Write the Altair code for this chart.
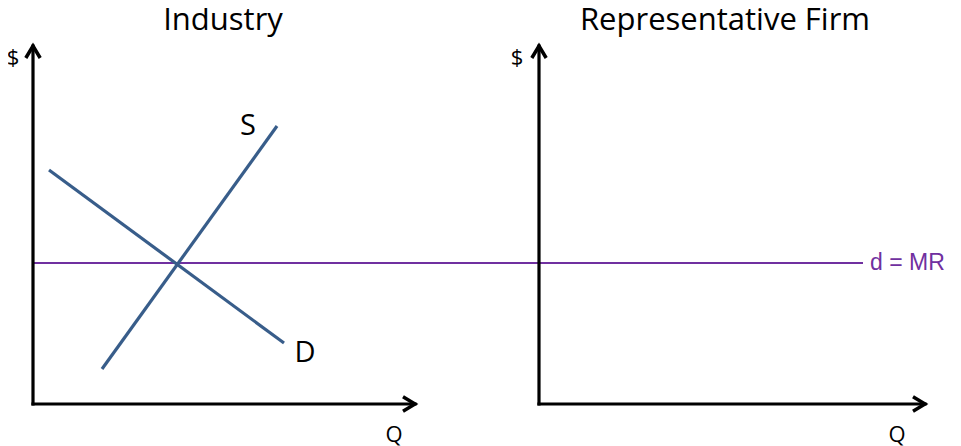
import altair as alt
import pandas as pd

# Coordinate system: origin at the Industry panel's axis corner, units ~ pixels
# Supply and demand (Industry panel)
supply_q = [69, 244]
supply_p = [35, 278]
demand_q = [16, 251]
demand_p = [234, 61]

# Market price line d = MR, spanning both panels
mr_price = 141
mr_q = [0, 830]

# Axes: (x, x2, y, y2)
axis_x = [0, 506, 0, 506]
axis_x2 = [0, 506, 382, 892]
axis_y = [0, 0, 0, 0]
axis_y2 = [358, 358, 0, 0]

up_tips_x = [0, 506]
up_tips_y = [358, 358]
right_tips_x = [382, 892]
right_tips_y = [0, 0]

titles = ["Industry", "Representative Firm"]
titles_x = [190, 692]
titles_y = [383, 383]

axis_labels = ["$", "$", "Q", "Q"]
axis_labels_x = [-20, 484, 361, 864]
axis_labels_y = [346, 346, -31, -31]

curve_labels = ["S", "D"]
curve_labels_x = [215, 272]
curve_labels_y = [278, 51]

XS = alt.Scale(domain=[-25, 920], nice=False, zero=False)
YS = alt.Scale(domain=[-42, 396], nice=False, zero=False)

def X(f="x"):
    return alt.X(f"{f}:Q", scale=XS, axis=None)

def Y(f="y"):
    return alt.Y(f"{f}:Q", scale=YS, axis=None)

blue = "#385D8A"
purple = "#7030A0"

sd = pd.DataFrame({
    "x": supply_q + demand_q,
    "y": supply_p + demand_p,
    "curve": ["S", "S", "D", "D"],
})
curves = alt.Chart(sd).mark_line(color=blue, strokeWidth=3.2).encode(
    x=X(), y=Y(), detail="curve:N"
)

mr = pd.DataFrame({"x": [mr_q[0]], "x2": [mr_q[1]], "y": [mr_price]})
mr_line = alt.Chart(mr).mark_rule(color=purple, strokeWidth=2).encode(
    x=X(), x2="x2", y=Y()
)
mr_text = alt.Chart(pd.DataFrame({"x": [mr_q[1] + 7], "y": [mr_price], "t": ["d = MR"]})).mark_text(
    font="Liberation Sans", fontSize=23, color=purple, align="left", baseline="middle"
).encode(x=X(), y=Y(), text="t:N")

ax = pd.DataFrame({"x": axis_x, "x2": axis_x2, "y": axis_y, "y2": axis_y2})
axes = alt.Chart(ax).mark_rule(color="black", strokeWidth=3.2, strokeCap="square").encode(
    x=X(), x2="x2", y=Y(), y2="y2"
)

up = pd.DataFrame({"x": up_tips_x, "y": up_tips_y})
up_arrows = alt.Chart(up).mark_point(
    shape="M -0.6 1 L 0 0 L 0.6 1", size=576, filled=False, stroke="black",
    strokeWidth=3.5, strokeJoin="miter", opacity=1
).encode(x=X(), y=Y())

rt = pd.DataFrame({"x": right_tips_x, "y": right_tips_y})
right_arrows = alt.Chart(rt).mark_point(
    shape="M -1 -0.6 L 0 0 L -1 0.6", size=576, filled=False, stroke="black",
    strokeWidth=3.5, strokeJoin="miter", opacity=1
).encode(x=X(), y=Y())

tt = pd.DataFrame({"x": titles_x, "y": titles_y, "t": titles})
title_text = alt.Chart(tt).mark_text(
    font="Open Sans", fontSize=31, color="black", align="center", baseline="middle"
).encode(x=X(), y=Y(), text="t:N")

al = pd.DataFrame({"x": axis_labels_x, "y": axis_labels_y, "t": axis_labels})
axis_text = alt.Chart(al).mark_text(
    font="Open Sans", fontSize=22, color="black", align="center", baseline="middle"
).encode(x=X(), y=Y(), text="t:N")

cl = pd.DataFrame({"x": curve_labels_x, "y": curve_labels_y, "t": curve_labels})
curve_text = alt.Chart(cl).mark_text(
    font="Open Sans", fontSize=29, color="black", align="center", baseline="middle"
).encode(x=X(), y=Y(), text="t:N")

chart = alt.layer(
    mr_line, curves, axes, up_arrows, right_arrows, title_text, axis_text, curve_text, mr_text
).properties(
    width=945, height=438, padding=0, autosize=alt.AutoSizeParams(type="none")
).configure_view(stroke=None)

chart.save("out.html", embed_options={"renderer": "svg", "actions": False})
